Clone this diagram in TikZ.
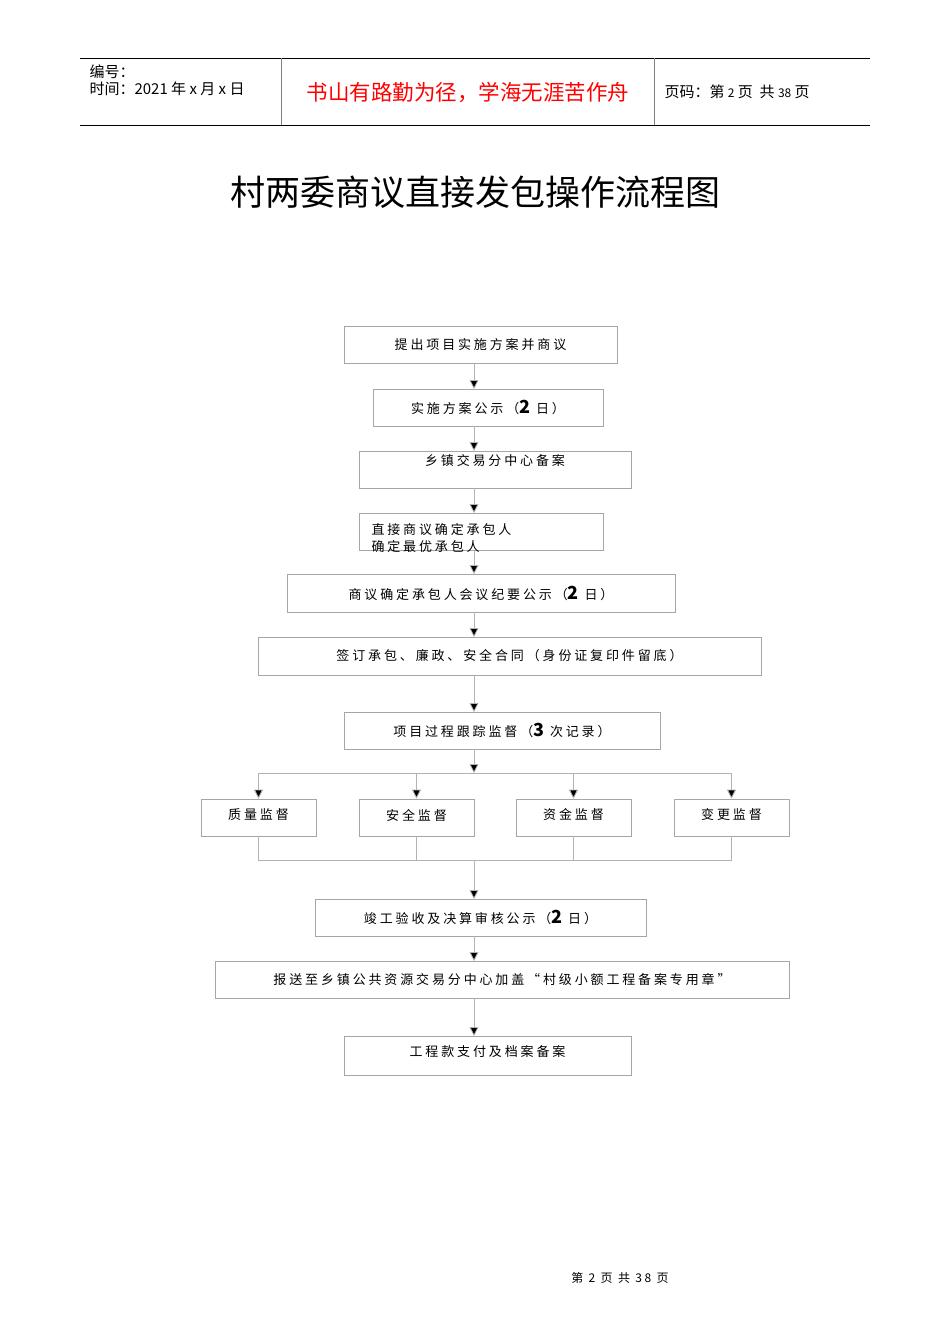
\documentclass[tikz,border=0pt]{standalone}
\usepackage{fontspec}
\setmainfont{Liberation Sans}
\newfontfamily\cjk{Noto Sans CJK SC}
\newfontfamily\cjks[LetterSpace=22]{Noto Sans CJK SC}
\usetikzlibrary{arrows.meta}
\begin{document}
\begin{tikzpicture}[x=1pt,y=-1pt,
  tx/.style={font=\cjks\fontsize{13}{17}\selectfont},
  bx/.style={draw=gray!70,line width=0.8pt,inner sep=0pt,tx},
  ln/.style={draw=gray!60,line width=0.8pt},
  ar/.style={ln,-{Triangle[fill=black,length=9pt,width=9pt]}}]
\useasboundingbox (0,0) rectangle (950,1344);
% header
\draw[line width=0.8pt] (80,58) -- (870,58) (80,125) -- (870,125);
\draw[line width=0.6pt,gray] (281,58) -- (281,125) (654,58) -- (654,125);
\node[anchor=west,font=\cjk\fontsize{15}{17}\selectfont,align=left] (h1) at (86,80) {编号：\\时间：2021 年 x 月 x 日};
\node[text=red,font=\cjk\fontsize{21.5}{24}\selectfont] (h2) at (468,93) {书山有路勤为径，学海无涯苦作舟};
\node[anchor=west,font=\cjk\fontsize{15}{17}\selectfont] (h3) at (661,92) {页码：第 {\fontsize{12}{13}\selectfont 2} 页\ \ 共 {\fontsize{12}{13}\selectfont 38} 页};
\node[font=\cjk\fontsize{35}{40}\selectfont] (title) at (475,192) {村两委商议直接发包操作流程图};
% boxes
\node[bx,minimum width=273pt,minimum height=37pt] (b1) at (480.5,344.5) {提出项目实施方案并商议};
\node[bx,minimum width=230pt,minimum height=37pt] (b2) at (488,407.5) {实施方案公示（{\fontsize{18}{18}\selectfont\bfseries 2} 日）};
\node[bx,minimum width=272pt,minimum height=37pt] (b3) at (495,469.5) {};
\node[tx] (t3) at (495,461) {乡镇交易分中心备案};
\node[bx,minimum width=244pt,minimum height=37pt] (b4) at (481,531.5) {};
\node[anchor=west,align=left,tx] (t4) at (368,538) {直接商议确定承包人\\确定最优承包人};
\node[bx,minimum width=388pt,minimum height=38pt] (b5) at (481,593) {商议确定承包人会议纪要公示（{\fontsize{18}{18}\selectfont\bfseries 2} 日）};
\node[bx,minimum width=503pt,minimum height=38pt] (b6) at (509.5,656) {签订承包、廉政、安全合同（身份证复印件留底）};
\node[bx,minimum width=316pt,minimum height=37pt] (b7) at (502,730.5) {项目过程跟踪监督（{\fontsize{18}{18}\selectfont\bfseries 3} 次记录）};
\foreach \n/\x in {q/258.5,s/416.5,z/573.5,g/731.5}
  \node[bx,minimum width=115pt,minimum height=37pt] (\n) at (\x,817.5) {};
\node[tx] at (258.5,815) {质量监督};
\node[tx] at (416.5,815) {安全监督};
\node[tx] at (573.5,815) {资金监督};
\node[tx] at (731.5,815) {变更监督};
\node[bx,minimum width=331pt,minimum height=37pt] (b12) at (480.5,917.5) {竣工验收及决算审核公示（{\fontsize{18}{18}\selectfont\bfseries 2} 日）};
\node[bx,minimum width=574pt,minimum height=37pt] (b13) at (502,979.5) {报送至乡镇公共资源交易分中心加盖“村级小额工程备案专用章”};
\node[bx,minimum width=287pt,minimum height=39pt] (b14) at (487.5,1055.5) {};
\node[tx] at (487.5,1052) {工程款支付及档案备案};
% connectors
\draw[ar] (474,363) -- (474,389);
\draw[ar] (474,426) -- (474,451);
\draw[ar] (474,488) -- (474,513);
\draw[ar] (474,550) -- (474,574);
\draw[ar] (474,612) -- (474,637);
\draw[ar] (474,675) -- (474,712);
\coordinate (br) at (474,773);
\draw[ar] (474,749) -- (br);
\draw[ln] (q.north |- br) -- (g.north |- br);
\foreach \n in {q,s,z,g} \draw[ar] (\n.north |- br) -- (\n.north);
\coordinate (jn) at (474,860);
\draw[ln] (q.south) -- (q.south |- jn) -- (g.south |- jn) -- (g.south);
\draw[ln] (s.south) -- (s.south |- jn) (z.south) -- (z.south |- jn);
\draw[ar] (jn) -- (474,899);
\draw[ar] (474,936) -- (474,961);
\draw[ar] (474,998) -- (474,1036);
% footer
\node[font=\cjks\fontsize{12}{14}\selectfont] (ft) at (620,1278) {第 2 页 共 38 页};
\end{tikzpicture}
\end{document}
